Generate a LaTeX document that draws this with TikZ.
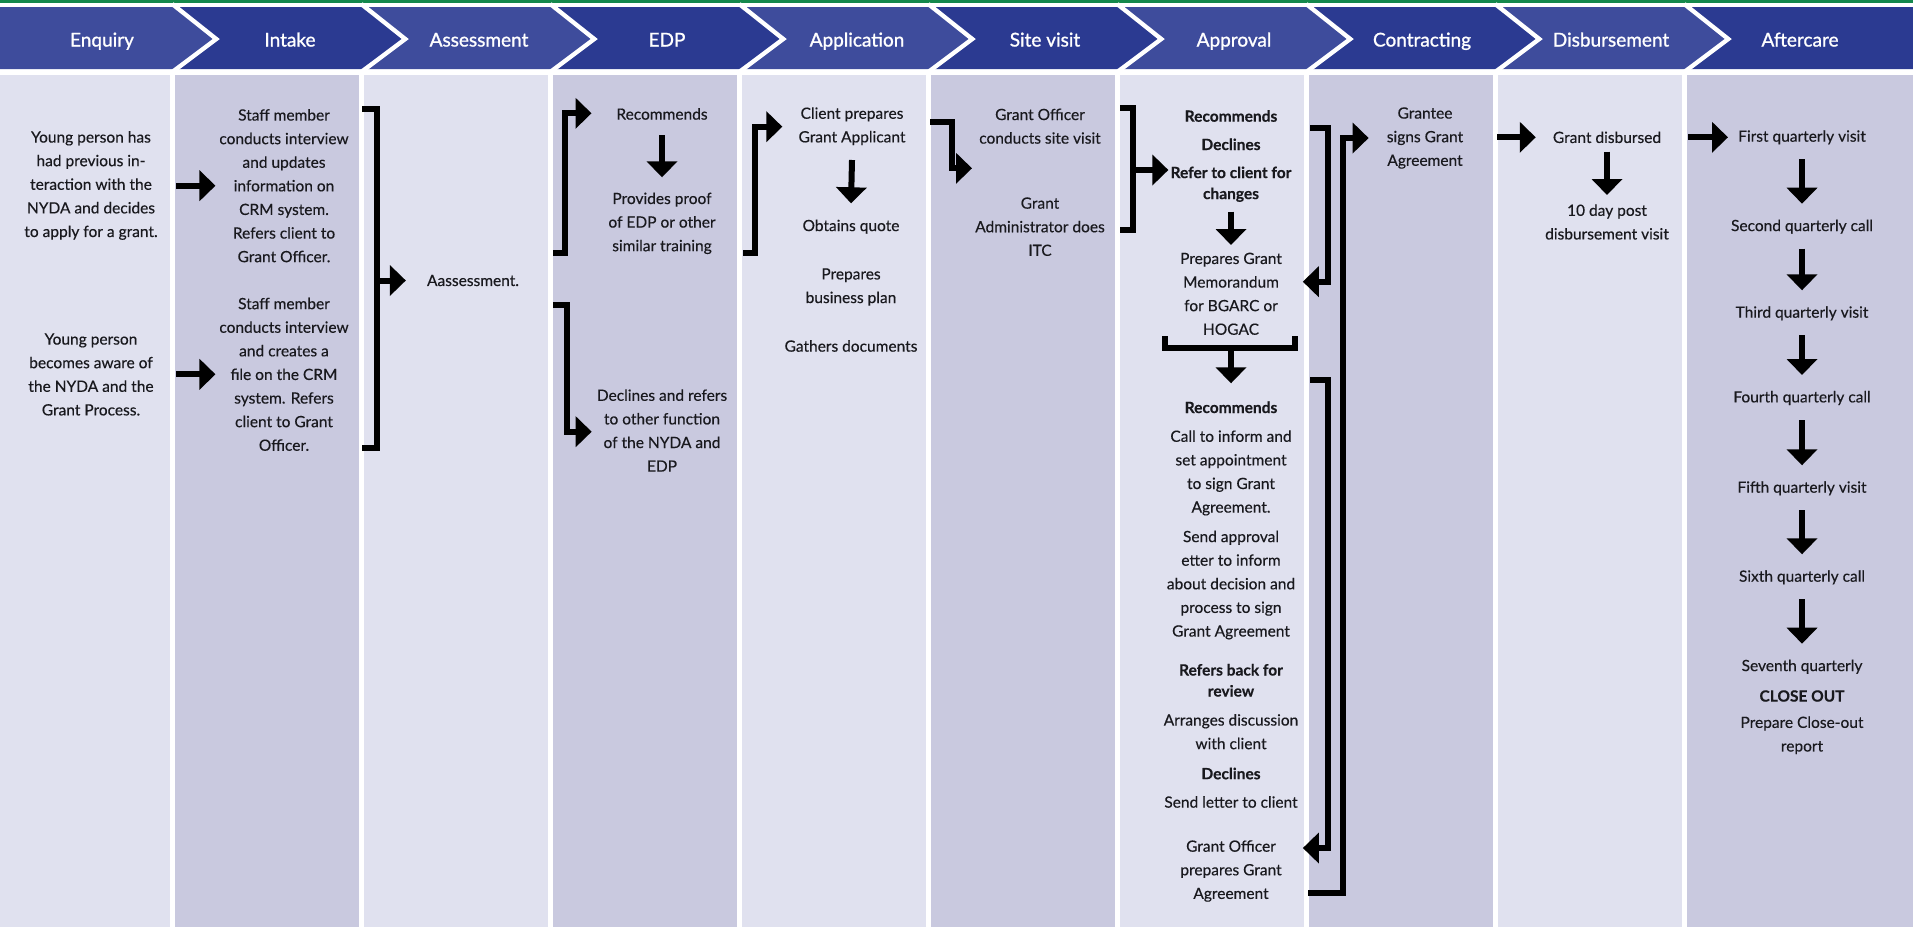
\documentclass[tikz,border=0pt]{standalone}
\usepackage{fontspec}
\setmainfont{Lato}[FakeBold=0.35]
\newfontfamily\hdrfont{Lato}[FakeBold=1.1]
\usetikzlibrary{arrows.meta,calc}
\definecolor{grn}{RGB}{20,136,76}
\definecolor{hdA}{RGB}{62,76,156}
\definecolor{hdB}{RGB}{43,58,145}
\definecolor{colL}{RGB}{224,225,239}
\definecolor{colD}{RGB}{201,201,223}
\definecolor{txtc}{RGB}{25,25,30}
\begin{document}
\begin{tikzpicture}[x=1pt,y=-1pt,
  txt/.style={font=\fontsize{15.5}{23.6}\selectfont, align=center, inner sep=0pt, text=txtc},
  btxt/.style={txt, font=\fontsize{15.5}{21}\selectfont\bfseries},
  hdr/.style={font=\hdrfont\fontsize{19}{22}\selectfont, text=white, inner sep=0pt, anchor=base},
  conn/.style={line width=6pt, line join=miter, -{Triangle[width=30pt,length=16pt]}},
  brk/.style={line width=6pt, line join=miter},
]
\useasboundingbox (0,0) rectangle (1913,927);
\fill[white] (0,0) rectangle (1913,927);
\fill[grn] (0,0) rectangle (1913,2.5);
% columns
\fill[colL] (0,75) rectangle (170,927);
\foreach \k/\c in {1/colD,2/colL,3/colD,4/colL,5/colD,6/colL,7/colD,8/colL}{
  \fill[\c] ({174.5+189*(\k-1)},75) rectangle ({174.5+189*(\k-1)+184.5},927);
}
\fill[colD] (1686.5,75) rectangle (1913,927);
% header
\fill[hdA] (0,7) -- (172.25,7) -- (216.25,39) -- (172.25,69) -- (0,69) -- cycle;
\foreach \k/\c in {1/hdB,2/hdA,3/hdB,4/hdA,5/hdB,6/hdA,7/hdB,8/hdA}{
  \pgfmathsetmacro{\a}{172.25+189*(\k-1)}
  \pgfmathsetmacro{\b}{\a+189}
  \fill[\c] (\a,7) -- (\b,7) -- (\b+44,39) -- (\b,69) -- (\a,69) -- (\a+44,39) -- cycle;
}
\fill[hdB] (1684.25,7) -- (1913,7) -- (1913,69) -- (1684.25,69) -- (1728.25,39) -- cycle;
\foreach \k in {1,...,9}{
  \pgfmathsetmacro{\a}{172.25+189*(\k-1)}
  \draw[white, line width=4.3pt, line join=miter] (\a,4) -- (\a+44,39) -- (\a,72);
}
\node[hdr] (h0) at (102,46.5) {Enquiry};
\node[hdr] (h1) at (290,46.5) {Intake};
\node[hdr] (h2) at (479,46.5) {Assessment};
\node[hdr] (h3) at (667,46.5) {EDP};
\node[hdr] (h4) at (857,46.5) {Application};
\node[hdr] (h5) at (1045,46.5) {Site visit};
\node[hdr] (h6) at (1234,46.5) {Approval};
\node[hdr] (h7) at (1422,46.5) {Contracting};
\node[hdr] (h8) at (1611,46.5) {Disbursement};
\node[hdr] (h9) at (1800,46.5) {Aftercare};

% Enquiry
\node[txt] (e1) at (91,185.5) {Young person has\\had previous in-\\teraction with the\\NYDA and decides\\to apply for a grant.};
\node[txt] (e2) at (91,374.5) {Young person\\becomes aware of\\the NYDA and the\\Grant Process.};
% Intake
\node[txt] (i1) at (284,185.7) {Staff member\\conducts interview\\and updates\\information on\\CRM system.\\Refers client to\\Grant Officer.};
\node[txt] (i2) at (284,374.3) {Staff member\\conducts interview\\and creates a\\file on the CRM\\system. Refers\\client to Grant\\Officer.};
% Assessment
\node[txt] (as) at (473,280.5) {Aassessment.};
% EDP
\node[txt] (d1) at (662,114) {Recommends};
\node[txt] (d2) at (662,223.3) {Provides proof\\of EDP or other\\similar training};
\node[txt] (d3) at (662,430.5) {Declines and refers\\to other function\\of the NYDA and\\EDP};
% Application
\node[txt] (p1) at (852,126.2) {Client prepares\\Grant Applicant};
\node[txt] (p2) at (851,226.7) {Obtains quote};
\node[txt] (p3) at (851,287) {Prepares\\business plan};
\node[txt] (p4) at (851,346) {Gathers documents};
% Site visit
\node[txt] (s1) at (1040,126.2) {Grant Officer\\conducts site visit};
\node[txt] (s2) at (1040,226.7) {Grant\\Administrator does\\ITC};
% Approval
\node[btxt] (ap1) at (1231,116) {Recommends};
\node[btxt] (ap2) at (1231,144.3) {Declines};
\node[btxt] (ap3) at (1231,184.2) {Refer to client for\\changes};
\node[txt] (ap4) at (1231,293.8) {Prepares Grant\\Memorandum\\for BGARC or\\HOGAC};
\node[btxt] (ap5) at (1231,407.3) {Recommends};
\node[txt] (ap6) at (1231,472.9) {Call to inform and\\set appointment\\to sign Grant\\Agreement.};
\node[txt] (ap7) at (1231,585) {Send approval\\etter to inform\\about decision and\\process to sign\\Grant Agreement};
\node[btxt] (ap8) at (1231,680.3) {Refers back for\\review};
\node[txt] (ap9) at (1231,731.7) {Arranges discussion\\with client};
\node[btxt] (ap10) at (1231,773.5) {Declines};
\node[txt] (ap11) at (1231,802) {Send letter to client};
\node[txt] (ap12) at (1231,871) {Grant Officer\\prepares Grant\\Agreement};
% Contracting
\node[txt] (c1) at (1425,138) {Grantee\\signs Grant\\Agreement};
% Disbursement
\node[txt] (b1) at (1607,137.3) {Grant disbursed};
\node[txt] (b2) at (1607,222) {10 day post\\disbursement visit};
% Aftercare
\node[txt] (f1) at (1802,137.3) {First quarterly visit};
\node[txt] (f2) at (1802,226.7) {Second quarterly call};
\node[txt] (f3) at (1802,313.3) {Third quarterly visit};
\node[txt] (f4) at (1802,398) {Fourth quarterly call};
\node[txt] (f5) at (1802,488.3) {Fifth quarterly visit};
\node[txt] (f6) at (1802,577.3) {Sixth quarterly call};
\node[txt] (f7) at (1802,666.7) {Seventh quarterly};
\node[btxt] (f8) at (1802,696) {CLOSE OUT};
\node[txt] (f9) at (1802,735.3) {Prepare Close-out\\report};

% ---------- connectors ----------
\coordinate (q1) at (176,185.7);
\coordinate (q2) at (176,374.3);
\draw[conn, shorten >=3.7pt] (q1) -- (q1 -| i1.west);
\draw[conn, shorten >=3.7pt] (q2) -- (q2 -| i2.west);
% Intake bracket
\coordinate (ib1) at (362,109.3);
\coordinate (ib2) at (377,109.3);
\coordinate (ib3) at (377,448.3);
\coordinate (ib4) at (362,448.3);
\coordinate (ibm) at (377,280.5);
\draw[brk] (ib1) -- (ib2) -- (ib3) -- (ib4);
\draw[conn, shorten >=21pt] (ibm) -- (ibm -| as.west);
% EDP
\coordinate (ea1) at (553,253.3);
\coordinate (ea2) at (565,253.3);
\coordinate (ea3) at (565,113.3);
\draw[conn, shorten >=24.7pt] (ea1) -- (ea2) -- (ea3) -- (ea3 -| d1.west);
\draw[conn] ([yshift=-21pt]d1.center) -- ([yshift=46pt]d2.center);
\coordinate (eb1) at (553,305);
\coordinate (eb2) at (567,305);
\coordinate (eb3) at (567,431.7);
\draw[conn, shorten >=5pt] (eb1) -- (eb2) -- (eb3) -- (eb3 -| d3.west);
% EDP -> Application
\coordinate (pa1) at (743,253.3);
\coordinate (pa2) at (755,253.3);
\coordinate (pa3) at (755,126.7);
\draw[conn, shorten >=16pt] (pa1) -- (pa2) -- (pa3) -- (pa3 -| p1.west);
\draw[conn] ([yshift=-33.8pt]p1.center) -- ([yshift=23.4pt]p2.center);
% Application -> Site visit
\coordinate (sa1) at (930,121.7);
\coordinate (sa2) at (952,121.7);
\coordinate (sa3) at (952,168.3);
\coordinate (sa4) at (972,168.3);
\draw[conn] (sa1) -- (sa2) -- (sa3) -- (sa4);
% Site visit -> Approval
\coordinate (vb1) at (1120,108.3);
\coordinate (vb2) at (1133,108.3);
\coordinate (vb3) at (1133,230);
\coordinate (vb4) at (1120,230);
\coordinate (vbm) at (1133,170);
\draw[brk] (vb1) -- (vb2) -- (vb3) -- (vb4);
\draw[conn, shorten >=2pt] (vbm) -- (vbm -| ap3.west);
\draw[conn] ([yshift=-27.5pt]ap3.center) -- ([yshift=48.8pt]ap4.center);
% HOGAC bracket
\coordinate (hb1) at (1165,336);
\coordinate (hb2) at (1165,348.3);
\coordinate (hb3) at (1295,348.3);
\coordinate (hb4) at (1295,336);
\coordinate (hbm) at (1231,348.3);
\draw[brk] (hb1) -- (hb2) -- (hb3) -- (hb4);
\draw[conn] (hbm) -- ([yshift=24pt]ap5.center);
% Contracting connectors
\coordinate (ka1) at (1310,128.3);
\coordinate (ka2) at (1328,128.3);
\coordinate (ka3) at (1328,281.7);
\draw[conn, shorten >=20.7pt] (ka1) -- (ka2) -- (ka3) -- (ka3 -| ap4.east);
\coordinate (kc1) at (1310,380);
\coordinate (kc2) at (1328,380);
\coordinate (kc3) at (1328,848);
\draw[conn, shorten >=21pt] (kc1) -- (kc2) -- (kc3) -- (kc3 -| ap12.east);
\coordinate (kb1) at (1308,893.3);
\coordinate (kb2) at (1343,893.3);
\coordinate (kb3) at (1343,138);
\draw[conn, shorten >=18pt] (kb1) -- (kb2) -- (kb3) -- (kb3 -| c1.west);
% Contracting -> Disbursement -> Aftercare
\coordinate (da1) at (1497,137.3);
\draw[conn, shorten >=17pt] (da1) -- (da1 -| b1.west);
\draw[conn] ([yshift=-14.4pt]b1.center) -- ([yshift=27pt]b2.center);
\coordinate (fa1) at (1688,137.3);
\draw[conn, shorten >=10pt] (fa1) -- (fa1 -| f1.west);
\foreach \u/\v in {f1/f2,f2/f3,f3/f4,f4/f5,f5/f6,f6/f7}{
  \draw[conn] ([yshift=-22pt]\u.center) -- ([yshift=23pt]\v.center);
}
\end{tikzpicture}
\end{document}
